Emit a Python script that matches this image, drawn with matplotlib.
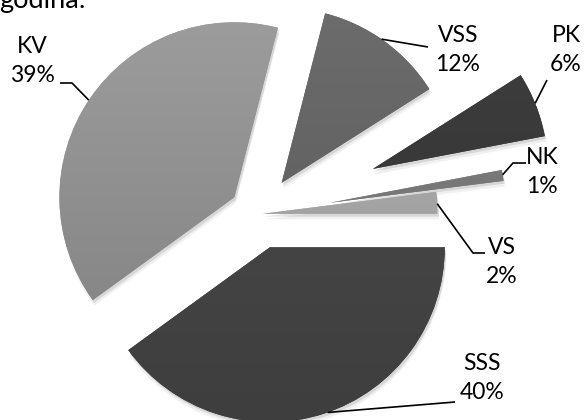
import numpy as np
import matplotlib
matplotlib.use("Agg")
import matplotlib.pyplot as plt
from matplotlib import patheffects as pe

# ---- data ----
categories = ["VSS", "PK", "NK", "VS", "SSS", "KV"]
shares = [12, 6, 1, 2, 40, 39]
pct_labels = ["12%", "6%", "1%", "2%", "40%", "39%"]

# ---- styling ----
explode_frac = [0.22, 0.70, 0.41, 0.02, 0.20, 0.17]
grad_top = ["#6c6c6c", "#3e3e3e", "#7e7e7e", "#ababab", "#4a4a4a", "#9c9c9c"]
grad_bot = ["#5a5a5a", "#343434", "#707070", "#9c9c9c", "#3e3e3e", "#828282"]

W, H = 587, 420
fig = plt.figure(figsize=(W / 100, H / 100), dpi=100)
ax = fig.add_axes([0, 0, 1, 1])

R = 175
center = (259, H - 214)
wedges, _ = ax.pie(shares, explode=[f * R for f in explode_frac], radius=R,
                   center=center, startangle=75.6, counterclock=False,
                   colors=grad_top, wedgeprops=dict(linewidth=0))
ax.set_xlim(0, W)
ax.set_ylim(0, H)
ax.set_aspect("equal")
ax.axis("off")


def hex2rgb(h):
    h = h.lstrip("#")
    return np.array([int(h[i:i + 2], 16) / 255 for i in (0, 2, 4)])


# gradient fill + soft shadow
for w, ct, cb in zip(wedges, grad_top, grad_bot):
    w.set_path_effects([
        pe.SimplePatchShadow(offset=(1, -4), shadow_rgbFace="#000000", alpha=0.06),
        pe.SimplePatchShadow(offset=(1, -2), shadow_rgbFace="#000000", alpha=0.10),
        pe.Normal()])
    cx, cy = w.center
    x0, x1 = cx - R, cx + R
    y0, y1 = cy - R, cy + R
    t = np.linspace(0, 1, 256)[:, None]
    img = (hex2rgb(ct)[None, :] * (1 - t) + hex2rgb(cb)[None, :] * t)[:, None, :]
    im = ax.imshow(img, extent=(x0, x1, y0, y1), origin="upper", aspect="auto",
                   interpolation="bilinear", zorder=w.get_zorder() + 0.1)
    im.set_clip_path(w)

ax.set_xlim(0, W)
ax.set_ylim(0, H)

FONT = "Lato"
FS = 16.5

# label positions (center of two-line label) and leader lines
label_pos = {
    "VSS": (458, H - 50), "PK": (566, H - 50), "NK": (542, H - 172),
    "VS": (502, H - 262), "SSS": (482, H - 378), "KV": (32, H - 61),
}
edge_angle = {"VSS": 55.2, "PK": 22.0, "NK": 9.2, "VS": 3.3, "SSS": -70.7, "KV": 146.3}
leader_pts = {
    "VSS": [(428, H - 47)],
    "PK": [(547, H - 80)],
    "NK": [(526, H - 163), (513, H - 163)],
    "VS": [(485, H - 253), (473, H - 253)],
    "SSS": [(455, H - 402)],
    "KV": [(60, H - 83), (72, H - 83)],
}

for w, cat, pl in zip(wedges, categories, pct_labels):
    lx, ly = label_pos[cat]
    ax.text(lx, ly, f"{cat}\n{pl}", ha="center", va="center", fontsize=FS,
            family=FONT, linespacing=1.45, color="#000000", zorder=10)
    a = np.deg2rad(edge_angle[cat])
    ex = w.center[0] + R * np.cos(a)
    ey = w.center[1] + R * np.sin(a)
    pts = leader_pts[cat] + [(ex, ey)]
    xs, ys = zip(*pts)
    ax.plot(xs, ys, color="#000000", lw=1.2, zorder=9, solid_capstyle="butt")

# partially visible title line at the top
ax.text(-1, H - 8, "godina:", ha="left", va="baseline", fontsize=19.5,
        family=FONT, color="#000000", zorder=10)

fig.savefig("out.png", dpi=100)
